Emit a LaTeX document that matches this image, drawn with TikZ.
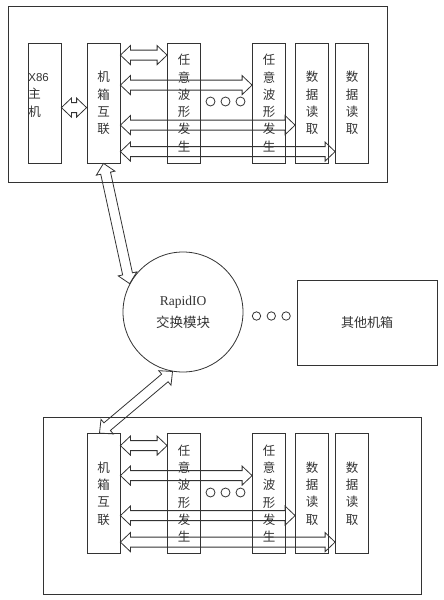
\documentclass[tikz,border=0pt]{standalone}
\usepackage{fontspec}
\setmainfont{Liberation Serif}
\newfontfamily\cjk{Noto Sans CJK SC}
\newfontfamily\lat{Liberation Sans}
\usetikzlibrary{calc}

\definecolor{ln}{gray}{0.2}

\tikzset{
  unit/.style={draw=ln, minimum width=33pt, minimum height=120pt, inner sep=0pt,
    align=center, text=ln, font=\cjk\fontsize{12.5}{17.3}\selectfont},
  dbl/.style={to path={
    ($(\tikztostart)!10pt!(\tikztotarget)$) coordinate (aa)
    ($(\tikztotarget)!10pt!(\tikztostart)$) coordinate (bb)
    (\tikztostart) -- ($(aa)!9.5pt!90:(bb)$) -- ($(aa)!5pt!90:(bb)$)
    -- ($(bb)!5pt!-90:(aa)$) -- ($(bb)!9.5pt!-90:(aa)$) -- (\tikztotarget)
    -- ($(bb)!9.5pt!90:(aa)$) -- ($(bb)!5pt!90:(aa)$)
    -- ($(aa)!5pt!-90:(bb)$) -- ($(aa)!9.5pt!-90:(bb)$) -- cycle}},
}

\begin{document}
\begin{tikzpicture}[x=1pt,y=-1pt,line width=0.8pt,draw=ln]

\useasboundingbox (0,0) rectangle (444,600);

% outer frames
\draw (8,6) rectangle (387,182);
\draw (43,417) rectangle (421,594);

% upper chassis
\node[unit] (host) at (44.5,103) {};
\node[anchor=north west, inner sep=0pt, align=left, text=ln,
  font=\cjk\fontsize{12.5}{17.5}\selectfont] (hostlbl) at (28,73)
  {{\lat\fontsize{11.5}{17.5}\selectfont X86}\\主\\机};
\node[unit] (link1) at (103.5,103) {机\\箱\\互\\联};
\node[unit] (wavea1) at (184,103) {任\\意\\波\\形\\发\\生};
\node[unit] (waveb1) at (269,103) {任\\意\\波\\形\\发\\生};
\node[unit] (reada1) at (312,103) {数\\据\\读\\取};
\node[unit] (readb1) at (352,103) {数\\据\\读\\取};

% lower chassis
\node[unit] (link2) at (103.5,493.5) {机\\箱\\互\\联};
\node[unit] (wavea2) at (184,493.5) {任\\意\\波\\形\\发\\生};
\node[unit] (waveb2) at (269,493.5) {任\\意\\波\\形\\发\\生};
\node[unit] (reada2) at (312,493.5) {数\\据\\读\\取};
\node[unit] (readb2) at (352,493.5) {数\\据\\读\\取};

% switch and other chassis
\node[circle, draw=ln, minimum size=120pt, inner sep=0pt, align=center, text=ln,
  font=\fontsize{13.5}{22}\selectfont] (rio) at (183,312) {RapidIO\\{\cjk 交换模块}};
\node[draw=ln, minimum width=140pt, minimum height=85pt, text=ln,
  font=\cjk\fontsize{13}{15}\selectfont] (other) at (367,322.5) {其他机箱};

% links
\draw[dbl] ([yshift=-65pt]host.north east) to ([yshift=-65pt]link1.north west);
\foreach \k in {1,2} {
  \draw[dbl] ([yshift=-12.5pt]link\k.north east) to ([yshift=-12.5pt]wavea\k.north west);
  \draw[dbl] ([yshift=-42.5pt]link\k.north east) to ([yshift=-42.5pt]waveb\k.north west);
  \draw[dbl] ([yshift=-82.5pt]link\k.north east) to ([yshift=-82.5pt]reada\k.north west);
  \draw[dbl] ([yshift=-109pt]link\k.north east) to ([yshift=-109pt]readb\k.north west);
}
\draw[dbl] (link1.south) to (rio.152);
\draw[dbl] (rio.260) to ([xshift=-4pt]link2.north);

% ellipsis marks
\foreach \i in {0,1,2} {
  \draw (210.5+15*\i,101.5) circle (4.5);
  \draw (210.5+15*\i,492.5) circle (4.5);
  \draw (256.5+14.8*\i,316) circle (4.2);
}

\end{tikzpicture}
\end{document}
